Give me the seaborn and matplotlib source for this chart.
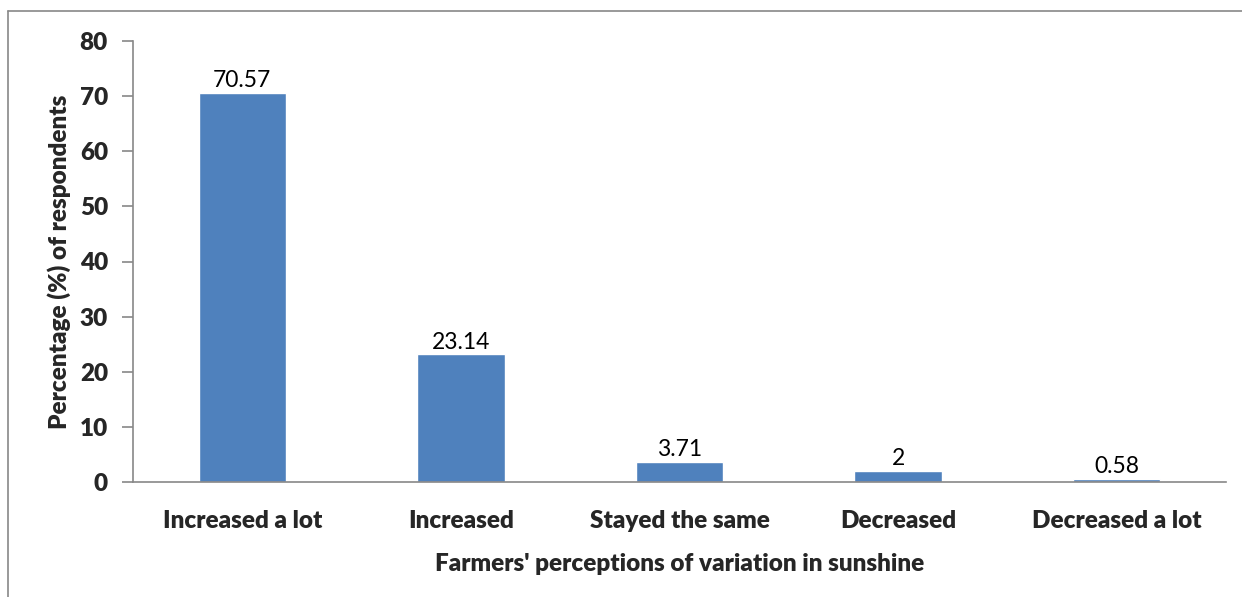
import numpy as np
import pandas as pd
import matplotlib.pyplot as plt
import seaborn as sns
from matplotlib.lines import Line2D

categories = ['Increased a lot', 'Increased', 'Stayed the same', 'Decreased', 'Decreased a lot']
values = [70.57, 23.14, 3.71, 2, 0.58]
value_labels = ['70.57', '23.14', '3.71', '2', '0.58']
y_ticks = [0, 10, 20, 30, 40, 50, 60, 70, 80]

sns.set_style('white')
plt.rcParams['font.family'] = ['Lato', 'DejaVu Sans']

df = pd.DataFrame({'category': categories, 'value': values})

W, H = 1242, 597
fig = plt.figure(figsize=(W / 100, H / 100), dpi=100)
ax = fig.add_axes([133 / W, 1 - 482 / H, (1226 - 133) / W, (482 - 41) / H])

sns.barplot(data=df, x='category', y='value', color='#4F81BD', saturation=1,
            width=0.4, ax=ax)

ax.set_xlim(-0.5, len(categories) - 0.5)
ax.set_ylim(0, 80)
ax.set_yticks(y_ticks)

for i, (v, lab) in enumerate(zip(values, value_labels)):
    ax.text(i, v + 0.3, lab, ha='center', va='bottom', fontsize=16.5, color='black')

ax.set_xticks(np.arange(len(categories)))
ax.set_xticklabels(categories, fontsize=17.5, fontweight='heavy')
ax.tick_params(axis='x', length=0, pad=20)
ax.set_xticks(np.arange(len(categories) + 1) - 0.5, minor=True)
ax.tick_params(axis='x', which='minor', length=8, width=1.2, color='#888888', direction='out')
ax.tick_params(axis='y', labelsize=17.5, length=8, width=1.2, color='#888888', direction='out', left=True, pad=10)
for t in ax.get_yticklabels():
    t.set_fontweight('heavy')

ax.set_xlabel("Farmers' perceptions of variation in sunshine", fontsize=17.5, fontweight='heavy', labelpad=15)
ax.set_ylabel('Percentage (%) of respondents', fontsize=17.5, fontweight='heavy', labelpad=6)

for s in ['top', 'right']:
    ax.spines[s].set_visible(False)
for s in ['left', 'bottom']:
    ax.spines[s].set_color('#888888')
    ax.spines[s].set_linewidth(1.2)

# outer border (left and top only visible)
fig.add_artist(Line2D([8 / W, 8 / W], [0, 1 - 11 / H], transform=fig.transFigure, color='#888888', lw=1.2))
fig.add_artist(Line2D([8 / W, 1], [1 - 11 / H, 1 - 11 / H], transform=fig.transFigure, color='#888888', lw=1.2))

fig.savefig('out.png', dpi=100)
